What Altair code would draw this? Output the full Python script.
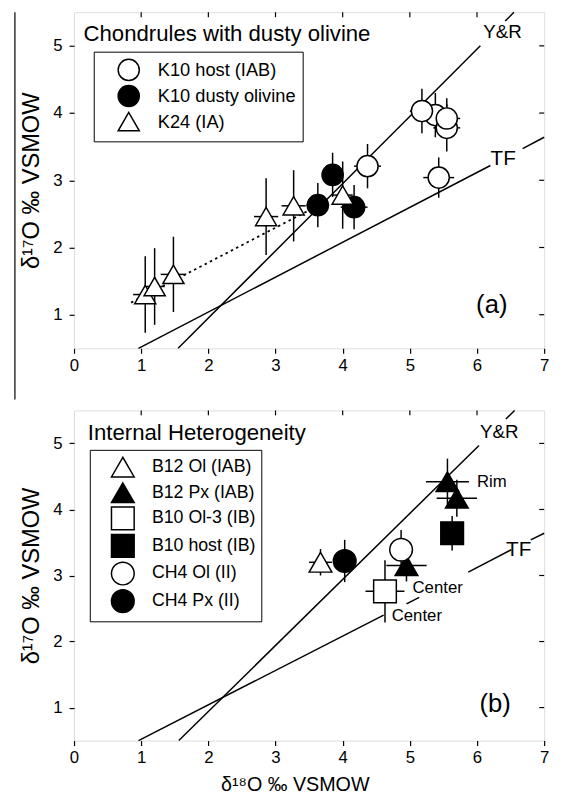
import altair as alt
import pandas as pd

FONT = "Liberation Sans"

# ---------------- data, panel (a) ----------------
a_names = ["K10 host (IAB)", "K10 dusty olivine", "K24 (IA)"]
a_series = ["K10 host (IAB)"] * 6 + ["K10 dusty olivine"] * 3 + ["K24 (IA)"] * 6
a_d18 = [5.38, 5.55, 5.55, 5.18, 5.43, 4.37, 3.85, 3.63, 4.17, 1.06, 1.20, 1.48, 2.86, 3.27, 4.00]
a_d17 = [3.97, 3.78, 3.92, 4.03, 3.04, 3.21, 3.08, 2.63, 2.60, 1.30, 1.42, 1.60, 2.46, 2.62, 2.78]
a_err18 = [0.18, 0.20, 0.20, 0.18, 0.23, 0.20, 0.15, 0.17, 0.20, 0.18, 0.15, 0.19, 0.18, 0.18, 0.15]
a_err17 = [0.33, 0.35, 0.30, 0.33, 0.30, 0.33, 0.33, 0.33, 0.33, 0.57, 0.57, 0.56, 0.57, 0.53, 0.50]

# reference lines (Y&R and TF), drawn as segments broken by their labels
a_seg_x = [1.55, 6.42, 0.96, 6.68]
a_seg_y = [0.50, 5.37, 0.50, 3.47]
a_seg_x2 = [6.05, 6.55, 6.20, 7.00]
a_seg_y2 = [5.00, 5.50, 3.22, 3.64]
# dotted trend through K24
a_dot_x, a_dot_y, a_dot_x2, a_dot_y2 = [0.85], [1.18], [3.55], [2.58]

a_title = "Chondrules with dusty olivine"
a_yr = ("Y&R", 6.38, 5.21)
a_tf = ("TF", 6.39, 3.32)
a_panel = ("(a)", 6.22, 1.15)

# ---------------- data, panel (b) ----------------
b_names = ["B12 Ol (IAB)", "B12 Px (IAB)", "B10 Ol-3 (IB)", "B10 host (IB)", "CH4 Ol (II)", "CH4 Px (II)"]
b_series = ["B12 Ol (IAB)", "B12 Px (IAB)", "B12 Px (IAB)", "B12 Px (IAB)", "B10 Ol-3 (IB)",
            "B10 host (IB)", "CH4 Ol (II)", "CH4 Px (II)"]
b_d18 = [3.67, 5.56, 5.70, 4.95, 4.63, 5.63, 4.87, 4.03]
b_d17 = [3.20, 4.42, 4.17, 3.15, 2.76, 3.64, 3.39, 3.22]
b_err18 = [0.17, 0.32, 0.30, 0.30, 0.29, 0.16, 0.12, 0.17]
b_err17 = [0.20, 0.35, 0.28, 0.24, 0.47, 0.26, 0.30, 0.32]

b_seg_x = [1.56, 6.43, 0.96, 4.95, 5.87, 6.80]
b_seg_y = [0.50, 5.37, 0.50, 2.57, 3.05, 3.54]
b_seg_x2 = [6.03, 6.56, 4.61, 5.14, 6.51, 7.00]
b_seg_y2 = [4.97, 5.50, 2.40, 2.67, 3.39, 3.64]

b_title = "Internal Heterogeneity"
b_yr = ("Y&R", 6.33, 5.17)
b_tf = ("TF", 6.62, 3.38)
b_notes = ["Rim", "Center", "Center"]
b_notes_x = [6.00, 5.04, 4.73]
b_notes_y = [4.41, 2.81, 2.39]
b_panel = ("(b)", 6.27, 1.05)

x_ticks = [0, 1, 2, 3, 4, 5, 6, 7]
y_ticks = [1, 2, 3, 4, 5]
y_title = "δ¹⁷O ‰ VSMOW"
x_title = "δ¹⁸O ‰ VSMOW"

W = 477
xscale = alt.Scale(domain=[0, 7], nice=False, zero=False)
yscale = alt.Scale(domain=[0.5, 5.5], nice=False, zero=False)


def make_axes(with_title):
    common = dict(grid=False, domain=False, tickColor="black", tickWidth=1.2, tickSize=5,
                  labelFont=FONT, labelFontSize=17, labelColor="black", labelFlush=False,
                  labelOverlap=False, format="d")
    if with_title:
        xa = alt.Axis(values=x_ticks, labelPadding=4, title=x_title, titleFont=FONT,
                      titleFontSize=20, titleFontWeight="normal", titleColor="black",
                      titlePadding=10, titleX=224, **common)
    else:
        xa = alt.Axis(values=x_ticks, labelPadding=4, title=None, **common)
    ya = alt.Axis(values=y_ticks, labelPadding=7, title=y_title, titleFont=FONT,
                  titleFontSize=24, titleFontWeight="normal", titleColor="black",
                  titlePadding=10, **common)
    return xa, ya


def panel(height, with_xtitle, names, series, d18, d17, e18, e17, fills, shapes, sizes,
          seg, dotted, title, title_xy, yr, tf, pnl, notes, leg, artifact_visible):
    xa, ya = make_axes(with_xtitle)

    def X(f):
        return alt.X(f"{f}:Q", scale=xscale, axis=xa)

    def Y(f):
        return alt.Y(f"{f}:Q", scale=yscale, axis=ya)

    pts = pd.DataFrame({"series": series, "d18": d18, "d17": d17, "e18": e18, "e17": e17})
    pts["x_lo"] = pts["d18"] - pts["e18"]
    pts["x_hi"] = pts["d18"] + pts["e18"]
    pts["y_lo"] = pts["d17"] - pts["e17"]
    pts["y_hi"] = pts["d17"] + pts["e17"]
    pts["order"] = range(len(pts))

    segdf = pd.DataFrame({"x": seg[0], "y": seg[1], "x2": seg[2], "y2": seg[3]})
    layers = []
    layers.append(alt.Chart(segdf).mark_rule(color="black", strokeWidth=1.5).encode(
        x=X("x"), y=Y("y"), x2="x2:Q", y2="y2:Q"))
    if dotted is not None:
        dd = pd.DataFrame({"x": dotted[0], "y": dotted[1], "x2": dotted[2], "y2": dotted[3]})
        layers.append(alt.Chart(dd).mark_rule(color="black", strokeWidth=1.8,
                                              strokeDash=[2.5, 3.5]).encode(
            x=X("x"), y=Y("y"), x2="x2:Q", y2="y2:Q"))
    # error bars
    layers.append(alt.Chart(pts).mark_rule(color="black", strokeWidth=1.5).encode(
        x=X("x_lo"), x2="x_hi:Q", y=Y("d17")))
    layers.append(alt.Chart(pts).mark_rule(color="black", strokeWidth=1.5).encode(
        x=X("d18"), y=Y("y_lo"), y2="y_hi:Q"))
    legend = alt.Legend(orient="none", legendX=leg["x"], legendY=leg["y"], title=None,
                        strokeColor="black", fillColor="white", padding=leg["pad"],
                        symbolOffset=leg["soff"], labelOffset=leg["loff"],
                        rowPadding=leg["rowpad"], labelFont=FONT, labelFontSize=leg["fs"],
                        labelColor="black", symbolStrokeWidth=1.5, symbolOpacity=1,
                        labelLimit=400)
    layers.append(alt.Chart(pts).mark_point(filled=True, strokeWidth=1.5, opacity=1).encode(
        x=X("d18"), y=Y("d17"),
        fill=alt.Fill("series:N", scale=alt.Scale(domain=names, range=fills), legend=legend),
        stroke=alt.Stroke("series:N", scale=alt.Scale(domain=names, range=["black"] * len(names)),
                          legend=legend),
        shape=alt.Shape("series:N", scale=alt.Scale(domain=names, range=shapes), legend=legend),
        size=alt.Size("series:N", scale=alt.Scale(domain=names, range=sizes), legend=legend),
        order=alt.Order("order:Q"),
    ))
    # inward ticks on the top and right edges
    layers.append(alt.Chart(pd.DataFrame({"t": x_ticks[1:-1]})).mark_rule(
        color="black", strokeWidth=1.2).encode(x=X("t"), y=alt.value(0), y2=alt.value(5)))
    layers.append(alt.Chart(pd.DataFrame({"t": y_ticks})).mark_rule(
        color="black", strokeWidth=1.2).encode(y=Y("t"), x=alt.value(W - 5), x2=alt.value(W)))
    # labels
    for (txt, tx, ty), fs in [(yr, 19), (tf, 21), (pnl, 26)]:
        layers.append(alt.Chart(pd.DataFrame({"t": [txt], "x": [tx], "y": [ty]})).mark_text(
            font=FONT, fontSize=fs, color="black", align="center", baseline="middle").encode(
            x=X("x"), y=Y("y"), text="t:N"))
    if notes is not None:
        nd = pd.DataFrame({"t": notes[0], "x": notes[1], "y": notes[2]})
        layers.append(alt.Chart(nd).mark_text(font=FONT, fontSize=17, color="black",
                                              align="left", baseline="middle").encode(
            x=X("x"), y=Y("y"), text="t:N"))
    layers.append(alt.Chart(pd.DataFrame({"t": [title]})).mark_text(
        font=FONT, fontSize=22.5, color="black", align="left", baseline="middle").encode(
        x=alt.value(title_xy[0]), y=alt.value(title_xy[1]), text="t:N"))
    # vertical edge line at the far left (scan artefact of the original figure)
    layers.append(alt.Chart(pd.DataFrame({"a": [0]})).mark_rule(
        color="#333333", strokeWidth=1.5, strokeOpacity=1 if artifact_visible else 0).encode(
        x=alt.value(-60), y=alt.value(0), y2=alt.value(393 if artifact_visible else height)))
    return alt.layer(*layers).properties(width=W, height=height)


top = panel(341, False, a_names, a_series, a_d18, a_d17, a_err18, a_err17,
            ["white", "black", "white"], ["circle", "circle", "triangle-up"], [460, 460, 520],
            (a_seg_x, a_seg_y, a_seg_x2, a_seg_y2), (a_dot_x, a_dot_y, a_dot_x2, a_dot_y2),
            a_title, (9.6, 22), a_yr, a_tf, a_panel, None,
            dict(x=20, y=40, pad=7, soff=17, loff=18, rowpad=-2.5, fs=18.5), True)

bottom = panel(335, True, b_names, b_series, b_d18, b_d17, b_err18, b_err17,
               ["white", "black", "white", "black", "white", "black"],
               ["triangle-up", "triangle-up", "square", "square", "circle", "circle"],
               [530, 530, 324, 324, 324, 324],
               (b_seg_x, b_seg_y, b_seg_x2, b_seg_y2), None,
               b_title, (14, 23), b_yr, b_tf, b_panel, (b_notes, b_notes_x, b_notes_y),
               dict(x=16, y=40, pad=5, soff=16, loff=17, rowpad=-7.5, fs=18), False)

chart = alt.vconcat(top, bottom, spacing=7).resolve_scale(
    fill="independent", stroke="independent", shape="independent", size="independent"
).resolve_legend(
    fill="independent", stroke="independent", shape="independent", size="independent"
).properties(
    padding={"left": 5, "top": -3.5, "right": 5, "bottom": 0}
).configure_view(stroke="black", strokeWidth=1.5).configure(background="white")

chart.save("out.html", embed_options={"renderer": "svg", "actions": False})
